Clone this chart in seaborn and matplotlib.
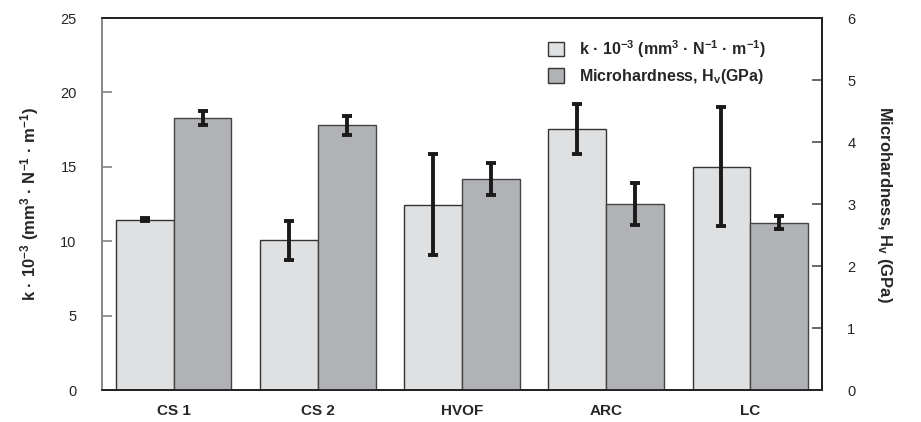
import matplotlib
matplotlib.use("Agg")
import matplotlib.pyplot as plt
import seaborn as sns
import pandas as pd
from matplotlib.patches import Patch

categories = ["CS 1", "CS 2", "HVOF", "ARC", "LC"]
k_values = [11.45, 10.05, 12.45, 17.55, 15.0]
k_errors = [0.1, 1.3, 3.4, 1.7, 4.0]
hv_values = [4.39, 4.27, 3.40, 3.00, 2.70]
hv_errors = [0.11, 0.15, 0.26, 0.34, 0.11]
legend_labels = ["k · 10$^{-3}$ (mm$^{3}$ · N$^{-1}$ · m$^{-1}$)",
                 "Microhardness, H$_{v}$(GPa)"]
left_ticks = [0, 5, 10, 15, 20, 25]
right_ticks = [0, 1, 2, 3, 4, 5, 6]

sns.set_theme(style="white")
plt.rcParams["font.family"] = ["Liberation Sans", "DejaVu Sans"]
plt.rcParams["mathtext.fontset"] = "custom"
plt.rcParams["mathtext.rm"] = "Liberation Sans:bold"
plt.rcParams["mathtext.bf"] = "Liberation Sans:bold"
plt.rcParams["mathtext.it"] = "Liberation Sans:bold"
plt.rcParams["mathtext.default"] = "bf"

light = "#dfe0e2"
dark = "#b1b2b6"

df_k = pd.DataFrame({"cat": categories, "val": k_values})
df_h = pd.DataFrame({"cat": categories, "val": hv_values})

fig = plt.figure(figsize=(9.21, 4.22), dpi=100)
ax = fig.add_axes([0.1104, 0.0758, 0.7824, 0.8815])
ax2 = ax.twinx()

sns.barplot(data=df_k, x="cat", y="val", order=categories, color=light, saturation=1,
            width=0.4, errorbar=None, edgecolor="#333333", linewidth=1.0, ax=ax)
sns.barplot(data=df_h, x="cat", y="val", order=categories, color=dark, saturation=1,
            width=0.4, errorbar=None, edgecolor="#444444", linewidth=1.0, ax=ax2)

# place the two series side by side within each category
def shift_and_err(axis, shift, values, errors):
    bars = sorted(axis.patches, key=lambda p: p.get_x())
    xs = []
    for p in bars:
        p.set_x(p.get_x() + shift)
        xs.append(p.get_x() + p.get_width() / 2)
    axis.errorbar(xs, values, yerr=errors, fmt="none", ecolor="#1a1a1a",
                  elinewidth=2.8, capsize=3.5, capthick=2.8, zorder=5)

shift_and_err(ax, -0.2, k_values, k_errors)
shift_and_err(ax2, 0.2, hv_values, hv_errors)

ax.set_xlim(-0.5, 4.5)
ax.set_ylim(0, 25)
ax2.set_ylim(0, 6)
ax.set_yticks(left_ticks)
ax2.set_yticks(right_ticks)
ax.set_xlabel("")
ax2.set_xlabel("")
ax.set_ylabel("k · 10$^{-3}$ (mm$^{3}$ · N$^{-1}$ · m$^{-1}$)",
              fontsize=12, fontweight="bold", labelpad=14)
ax2.set_ylabel("Microhardness, H$_{v}$ (GPa)", fontsize=12, fontweight="bold",
               rotation=270, labelpad=28)

ax.tick_params(axis="y", direction="in", length=7, color="#888888", labelsize=10.5,
               pad=18, left=True)
ax2.tick_params(axis="y", direction="in", length=7, color="#555555", labelsize=10.5,
                pad=18, right=True)
ax.tick_params(axis="x", length=0, labelsize=11, pad=10)
for lab in ax.get_xticklabels():
    lab.set_fontweight("bold")

for a in (ax, ax2):
    for s in a.spines.values():
        s.set_visible(True)
        s.set_linewidth(1.3)
        s.set_color("#222222")
ax.spines["left"].set_color("#888888")
ax2.spines["left"].set_color("#888888")

handles = [Patch(facecolor=light, edgecolor="#333333", linewidth=1.0),
           Patch(facecolor=dark, edgecolor="#333333", linewidth=1.0)]
ax2.legend(handles, legend_labels, loc="upper left", bbox_to_anchor=(0.6, 0.985),
           frameon=False, prop={"weight": "bold", "size": 11.5},
           handlelength=1.0, handleheight=1.0, handletextpad=0.9, labelspacing=0.45)

fig.savefig("out.png", dpi=100)
